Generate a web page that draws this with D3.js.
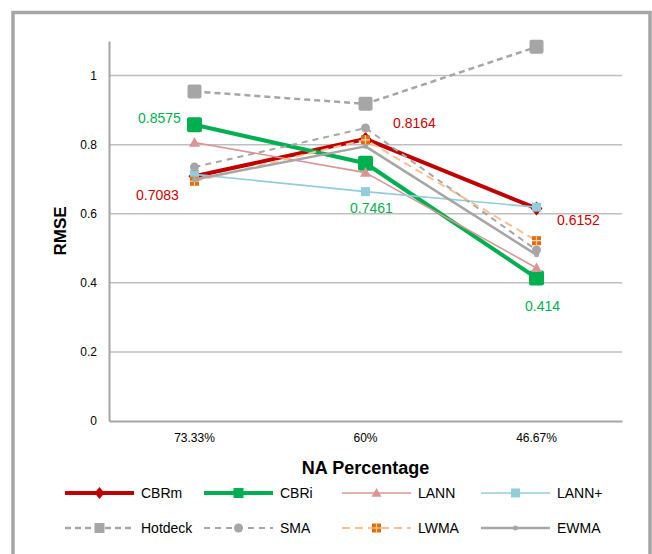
<!DOCTYPE html>
<html>
<head>
<meta charset="utf-8">
<script src="https://cdn.jsdelivr.net/npm/d3@7"></script>
<style>
  body { margin: 0; background: #fff; }
  svg { display: block; font-family: "Liberation Sans", Arial, sans-serif; }
</style>
</head>
<body>
<div id="chart"></div>
<script>
// categories on the x axis
const categories = ["73.33%", "60%", "46.67%"];

// RMSE per method
const cbrm    = [0.7083, 0.8164, 0.6152];
const cbri    = [0.8575, 0.7461, 0.414];
const lann    = [0.806, 0.719, 0.443];
const lannPlus = [0.714, 0.664, 0.619];
const hotdeck = [0.954, 0.918, 1.083];
const sma     = [0.735, 0.848, 0.495];
const lwma    = [0.694, 0.814, 0.522];
const ewma    = [0.699, 0.795, 0.481];

const yTicks = [0, 0.2, 0.4, 0.6, 0.8, 1];

const series = [
  {name: "CBRm", values: cbrm, color: "#C00000", width: 4, dash: null, marker: "diamond", size: 12, mfill: "#C00000"},
  {name: "CBRi", values: cbri, color: "#00B050", width: 4, dash: null, marker: "square", size: 15, mfill: "#00B050"},
  {name: "LANN", values: lann, color: "#DA9694", width: 1.6, dash: null, marker: "triangle", size: 11, mfill: "#DA9694"},
  {name: "LANN+", values: lannPlus, color: "#92CDDC", width: 1.6, dash: null, marker: "square", size: 9, mfill: "#92CDDC"},
  {name: "Hotdeck", values: hotdeck, color: "#A6A6A6", width: 2.5, dash: "6,4", marker: "square", size: 14, mfill: "#A6A6A6"},
  {name: "SMA", values: sma, color: "#A6A6A6", width: 2, dash: "6,5", marker: "circle", size: 9, mfill: "#A6A6A6"},
  {name: "LWMA", values: lwma, color: "#FAC090", width: 2, dash: "8,5", marker: "cross", size: 9, mfill: "#E46C0A"},
  {name: "EWMA", values: ewma, color: "#A6A6A6", width: 2.5, dash: null, marker: "dot", size: 5, mfill: "#A6A6A6"}
];

// data labels shown in the chart: [series, index, dx, dy]
const labels = [
  ["CBRi", 0, -35, -2], ["CBRm", 0, -37, 24],
  ["CBRi", 1, 6, 50], ["CBRm", 1, 49, -11],
  ["CBRm", 2, 42, 17], ["CBRi", 2, 6, 33]
];

const W = 652, H = 554;
const plot = {left: 109, right: 622, top: 41, bottom: 421};

const svg = d3.select("#chart").append("svg")
  .attr("width", W).attr("height", H);

// outer frame
svg.append("rect")
  .attr("x", 13).attr("y", 12.5)
  .attr("width", 637).attr("height", 560)
  .attr("fill", "none").attr("stroke", "#A6A6A6").attr("stroke-width", 3.5);

const x = d3.scaleBand().domain(categories).range([plot.left, plot.right]);
const y = d3.scaleLinear().domain([0, 1.1]).range([plot.bottom, plot.top]);
const cx = c => x(c) + x.bandwidth() / 2;

// gridlines
svg.append("g").selectAll("line")
  .data(yTicks.filter(d => d > 0))
  .join("line")
  .attr("x1", plot.left).attr("x2", plot.right)
  .attr("y1", d => y(d)).attr("y2", d => y(d))
  .attr("stroke", "#BFBFBF").attr("stroke-width", 1.5);

// y axis
const yAxis = svg.append("g")
  .attr("transform", `translate(${plot.left},0)`)
  .call(d3.axisLeft(y).tickValues(yTicks).tickSize(0).tickPadding(12).tickFormat(d3.format("~g")));
yAxis.select(".domain").attr("stroke", "#A6A6A6").attr("stroke-width", 2);
yAxis.selectAll("text").attr("font-size", 12).attr("fill", "#000")
  .attr("font-family", "'Liberation Sans', Arial, sans-serif");

// x axis
const xAxis = svg.append("g")
  .attr("transform", `translate(0,${plot.bottom})`)
  .call(d3.axisBottom(x).tickSize(0).tickPadding(12));
xAxis.select(".domain").attr("stroke", "#A6A6A6").attr("stroke-width", 2);
xAxis.selectAll("text").attr("font-size", 12).attr("fill", "#000")
  .attr("font-family", "'Liberation Sans', Arial, sans-serif");

// axis titles
svg.append("text")
  .attr("x", (plot.left + plot.right) / 2).attr("y", 474)
  .attr("text-anchor", "middle")
  .attr("font-size", 18).attr("font-weight", "bold")
  .text("NA Percentage");

svg.append("text")
  .attr("transform", `translate(66,${(plot.top + plot.bottom) / 2}) rotate(-90)`)
  .attr("text-anchor", "middle")
  .attr("font-size", 17).attr("font-weight", "bold")
  .text("RMSE");

function drawMarker(g, s, px, py) {
  const r = s.size / 2;
  if (s.marker === "diamond") {
    g.append("path")
      .attr("d", `M${px},${py - r - 1}L${px + r},${py}L${px},${py + r + 1}L${px - r},${py}Z`)
      .attr("fill", s.mfill);
  } else if (s.marker === "square") {
    g.append("rect")
      .attr("x", px - r).attr("y", py - r)
      .attr("width", s.size).attr("height", s.size)
      .attr("rx", s.size > 12 ? 2 : 0)
      .attr("fill", s.mfill);
  } else if (s.marker === "triangle") {
    g.append("path")
      .attr("d", `M${px},${py - r}L${px + r},${py + r * 0.75}L${px - r},${py + r * 0.75}Z`)
      .attr("fill", s.mfill);
  } else if (s.marker === "circle" || s.marker === "dot") {
    g.append("circle")
      .attr("cx", px).attr("cy", py).attr("r", r)
      .attr("fill", s.mfill);
  } else if (s.marker === "cross") {
    g.append("rect")
      .attr("x", px - r).attr("y", py - r)
      .attr("width", s.size).attr("height", s.size)
      .attr("fill", s.mfill);
    g.append("path")
      .attr("d", `M${px},${py - r}V${py + r}M${px - r},${py}H${px + r}`)
      .attr("stroke", "#FAD7B5").attr("stroke-width", 1.2);
  }
}

const line = d3.line().x(d => cx(d.c)).y(d => y(d.v));

series.forEach(s => {
  const g = svg.append("g");
  const pts = s.values.map((v, i) => ({c: categories[i], v}));
  g.append("path")
    .datum(pts)
    .attr("d", line)
    .attr("fill", "none")
    .attr("stroke", s.color)
    .attr("stroke-width", s.width)
    .attr("stroke-dasharray", s.dash)
    .attr("stroke-linejoin", "round");
  pts.forEach(p => drawMarker(g, s, cx(p.c), y(p.v)));
});

// data labels
labels.forEach(([name, i, dx, dy]) => {
  const s = series.find(d => d.name === name);
  svg.append("text")
    .attr("x", cx(categories[i]) + dx)
    .attr("y", y(s.values[i]) + dy)
    .attr("text-anchor", "middle")
    .attr("font-size", 14)
    .attr("fill", s.name === "CBRm" ? "#CC0000" : "#00B050")
    .text(s.values[i]);
});

// legend
const legCols = [65, 204, 342, 481];
const legRows = [493, 528];
series.forEach((s, i) => {
  const lx = legCols[i % 4], ly = legRows[Math.floor(i / 4)];
  const g = svg.append("g");
  g.append("line")
    .attr("x1", lx).attr("x2", lx + 69)
    .attr("y1", ly).attr("y2", ly)
    .attr("stroke", s.color)
    .attr("stroke-width", s.width)
    .attr("stroke-dasharray", s.dash);
  drawMarker(g, Object.assign({}, s, {size: Math.min(s.size, 10)}), lx + 34.5, ly);
  g.append("text")
    .attr("x", lx + 76).attr("y", ly + 5)
    .attr("font-size", 14)
    .text(s.name);
});
</script>
</body>
</html>
